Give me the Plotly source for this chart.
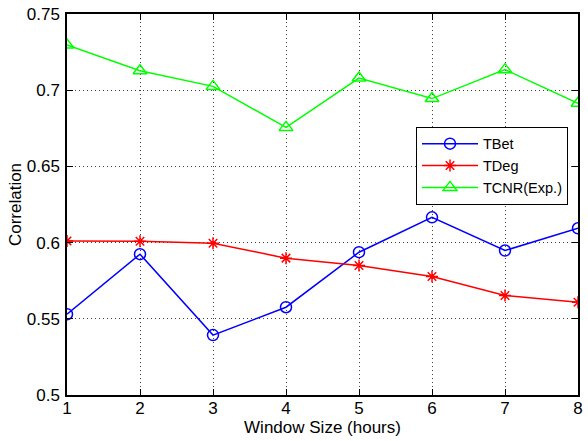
import plotly.graph_objects as go

window_hours = [1, 2, 3, 4, 5, 6, 7, 8]
tbet = [0.553, 0.5924, 0.5393, 0.5576, 0.5937, 0.6166, 0.5948, 0.6094]
tdeg = [0.6011, 0.6009, 0.5996, 0.5898, 0.5850, 0.5777, 0.5653, 0.5609]
tcnr = [0.7297, 0.7128, 0.7025, 0.6756, 0.7080, 0.6945, 0.7135, 0.6914]

x_ticks = [1, 2, 3, 4, 5, 6, 7, 8]
y_ticks = [0.5, 0.55, 0.6, 0.65, 0.7, 0.75]
y_tick_text = ["0.5", "0.55", "0.6", "0.65", "0.7", "0.75"]

font_family = "Liberation Sans"

fig = go.Figure()
fig.add_trace(go.Scatter(
    x=window_hours, y=tbet, name="TBet", mode="lines+markers",
    line=dict(color="#0000ff", width=1.5),
    marker=dict(symbol="circle-open", size=11, color="#0000ff", line=dict(width=1.5)),
))
fig.add_trace(go.Scatter(
    x=window_hours, y=tdeg, name="TDeg", mode="lines+markers",
    line=dict(color="#ff0000", width=1.5),
    marker=dict(symbol="asterisk-open", size=10, color="#ff0000", line=dict(width=1.5, color="#ff0000")),
))
fig.add_trace(go.Scatter(
    x=window_hours, y=tcnr, name="TCNR(Exp.)", mode="lines+markers",
    line=dict(color="#00ff00", width=1.5),
    marker=dict(symbol="triangle-up-open", size=12, color="#00ff00", line=dict(width=1.5)),
))

axis_common = dict(
    showline=True, linecolor="black", linewidth=1.5, mirror="ticks",
    ticks="inside", ticklen=6, tickcolor="black",
    showgrid=True, gridcolor="#404040", gridwidth=1, griddash="1px,3px",
    zeroline=False, tickfont=dict(size=17, color="black", family=font_family),
)

fig.update_xaxes(
    range=[1, 8], tickvals=x_ticks, ticklabelstandoff=-3,
    title=dict(text="Window Size (hours)", font=dict(size=17, color="black", family=font_family), standoff=0),
    **axis_common,
)
fig.update_yaxes(
    range=[0.5, 0.75], tickvals=y_ticks, ticktext=y_tick_text, ticklabelstandoff=2,
    title=dict(text="Correlation", font=dict(size=17, color="black", family=font_family), standoff=1),
    **axis_common,
)

fig.update_layout(
    width=588, height=441,
    margin=dict(l=67, r=5, t=13, b=46),
    paper_bgcolor="white", plot_bgcolor="white",
    font=dict(family=font_family, color="black"),
    showlegend=True,
    legend=dict(
        x=0.683, y=0.704, xanchor="left", yanchor="top",
        bgcolor="white", bordercolor="black", borderwidth=1,
        font=dict(size=14.5, color="black", family=font_family),
        tracegroupgap=0, itemwidth=56,
    ),
)

fig.write_html("out.html")
